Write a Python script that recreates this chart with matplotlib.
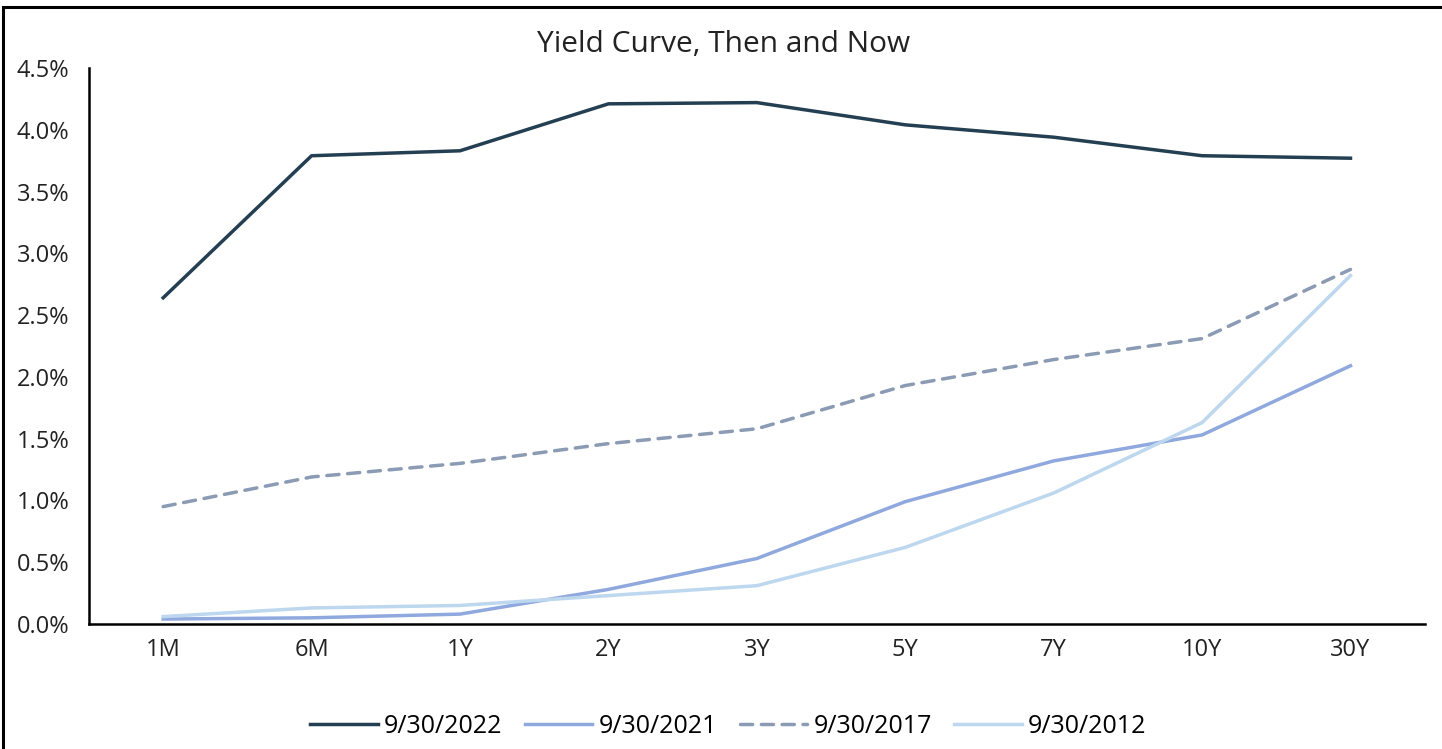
import matplotlib
matplotlib.use("Agg")
import matplotlib.pyplot as plt
from matplotlib.patches import Rectangle
from matplotlib.ticker import FuncFormatter

plt.rcParams['font.family'] = ['Open Sans', 'DejaVu Sans']

# DATA
tenors = ['1M', '6M', '1Y', '2Y', '3Y', '5Y', '7Y', '10Y', '30Y']
y2022 = [2.64, 3.79, 3.83, 4.21, 4.22, 4.04, 3.94, 3.79, 3.77]
y2021 = [0.04, 0.05, 0.08, 0.28, 0.53, 0.99, 1.32, 1.53, 2.09]
y2017 = [0.95, 1.19, 1.30, 1.46, 1.58, 1.93, 2.14, 2.31, 2.87]
y2012 = [0.06, 0.13, 0.15, 0.23, 0.31, 0.62, 1.06, 1.63, 2.82]
series_labels = ['9/30/2022', '9/30/2021', '9/30/2017', '9/30/2012']

fig = plt.figure(figsize=(14.42, 7.49), dpi=100)
ax = fig.add_axes([0.0617, 0.1669, 0.9263, 0.7423])

x = range(len(tenors))
ax.plot(x, y2022, color='#243f52', lw=2.5, label=series_labels[0])
ax.plot(x, y2021, color='#8fa8de', lw=2.5, label=series_labels[1])
ax.plot(x, y2017, color='#8a9bb3', lw=2.5, ls=(0, (3.5, 2.5)), dash_capstyle='round',
        label=series_labels[2])
ax.plot(x, y2012, color='#bdd7ee', lw=2.5, label=series_labels[3])

ax.set_xlim(-0.5, len(tenors) - 0.5)
ax.set_ylim(0, 4.5)
ax.set_xticks(list(x))
ax.set_xticklabels(tenors)
ax.set_yticks([i * 0.5 for i in range(10)])
ax.yaxis.set_major_formatter(FuncFormatter(lambda v, p: f'{v:.1f}%'))
ax.tick_params(length=0, labelsize=17, colors='#222222', pad=10)
ax.tick_params(axis='y', pad=14)

for s in ['top', 'right']:
    ax.spines[s].set_visible(False)
for s in ['left', 'bottom']:
    ax.spines[s].set_linewidth(1.8)
    ax.spines[s].set_color('black')

fig.text(0.5015, 0.941, 'Yield Curve, Then and Now', ha='center', va='center',
         fontsize=21.5, color='#222222')

fig.legend(loc='center', bbox_to_anchor=(0.505, 0.030), ncol=4, frameon=False,
           fontsize=18, handlelength=2.7, handletextpad=0.25, columnspacing=0.9)

# frame around the figure (only left/top edges visible in the crop)
fig.patches.append(Rectangle((0.0021, -0.05), 1.1, 0.9907 + 0.05, transform=fig.transFigure,
                             fill=False, edgecolor='black', lw=2.2))

fig.savefig('out.png', dpi=100)
